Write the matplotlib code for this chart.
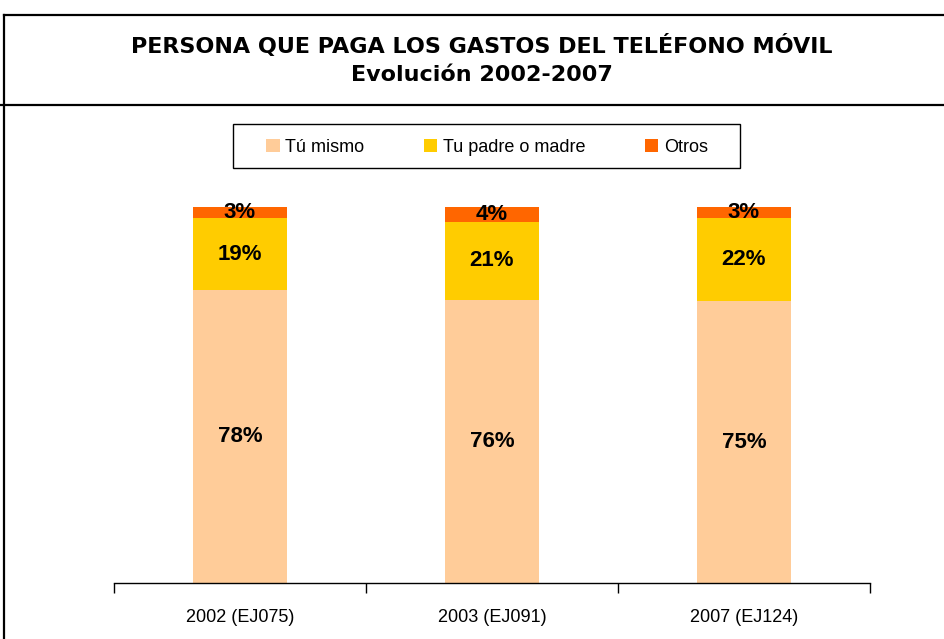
import matplotlib
matplotlib.use("Agg")
import matplotlib.pyplot as plt
from matplotlib.lines import Line2D
from matplotlib.patches import Patch, Rectangle
import numpy as np

# Data (100% stacked)
categories = ["2002 (EJ075)", "2003 (EJ091)", "2007 (EJ124)"]
series_names = ["Tú mismo", "Tu padre o madre", "Otros"]
tu_mismo = [78, 76, 75]
padre_madre = [19, 21, 22]
otros = [3, 4, 3]
colors = ["#FFCC99", "#FFCC00", "#FF6600"]

title1 = "PERSONA QUE PAGA LOS GASTOS DEL TELÉFONO MÓVIL"
title2 = "Evolución 2002-2007"

arial = ["Liberation Sans", "DejaVu Sans"]

fig = plt.figure(figsize=(9.44, 6.39), dpi=100)
ax = fig.add_axes([114/944, 1-583/639, (870-114)/944, (583-207)/639])

vals = np.array([tu_mismo, padre_madre, otros], dtype=float)
totals = vals.sum(axis=0)
shares = vals / totals
x = np.arange(len(categories))
bottom = np.zeros(len(categories))
width = 0.373
for k in range(len(series_names)):
    ax.bar(x, shares[k], width, bottom=bottom, color=colors[k], linewidth=0)
    for i in range(len(categories)):
        ax.text(x[i], bottom[i] + shares[k][i] / 2, f"{int(vals[k][i])}%",
                ha="center", va="center", fontsize=16, fontweight="bold",
                family=arial, color="black")
    bottom += shares[k]

ax.set_xlim(-0.5, len(categories) - 0.5)
ax.set_ylim(0, 1)
for s in ["top", "right", "left"]:
    ax.spines[s].set_visible(False)
ax.spines["bottom"].set_linewidth(1.0)
ax.set_yticks([])
ax.set_xticks(x)
ax.set_xticklabels(categories, fontsize=13, family=arial)
ax.tick_params(axis="x", which="major", length=0, pad=19)
ax.set_xticks(np.arange(-0.5, len(categories)), minor=True)
ax.tick_params(axis="x", which="minor", length=7, width=1.0, direction="out")

# Legend (box drawn separately so it can be wider than the entries)
handles = [Patch(facecolor=c, edgecolor="none") for c in colors]
fig.legend(handles, series_names, loc="center",
           bbox_to_anchor=(487/944, 1-147/639), ncol=3, frameon=False,
           prop={"family": arial, "size": 13},
           handlelength=0.75, handleheight=0.75, handletextpad=0.3,
           columnspacing=3.3, borderpad=0.75, borderaxespad=0)
fig.add_artist(Rectangle((233/944, 1-168/639), 507/944, 44/639,
                         transform=fig.transFigure, facecolor="none",
                         edgecolor="black", lw=1.0))

# Title
fig.text(482/944, 1-46/639, title1, ha="center", va="center",
         fontsize=16, fontweight="bold", family="DejaVu Sans")
fig.text(482/944, 1-75/639, title2, ha="center", va="center",
         fontsize=16, fontweight="bold", family="DejaVu Sans")

# Frame lines
lw = 1.6
fig.add_artist(Line2D([4/944, 1], [1-15/639, 1-15/639], color="black", lw=lw))
fig.add_artist(Line2D([0, 1], [1-105/639, 1-105/639], color="black", lw=lw))
fig.add_artist(Line2D([4/944, 4/944], [0, 1-15/639], color="black", lw=lw))

fig.savefig("out.png", dpi=100)
